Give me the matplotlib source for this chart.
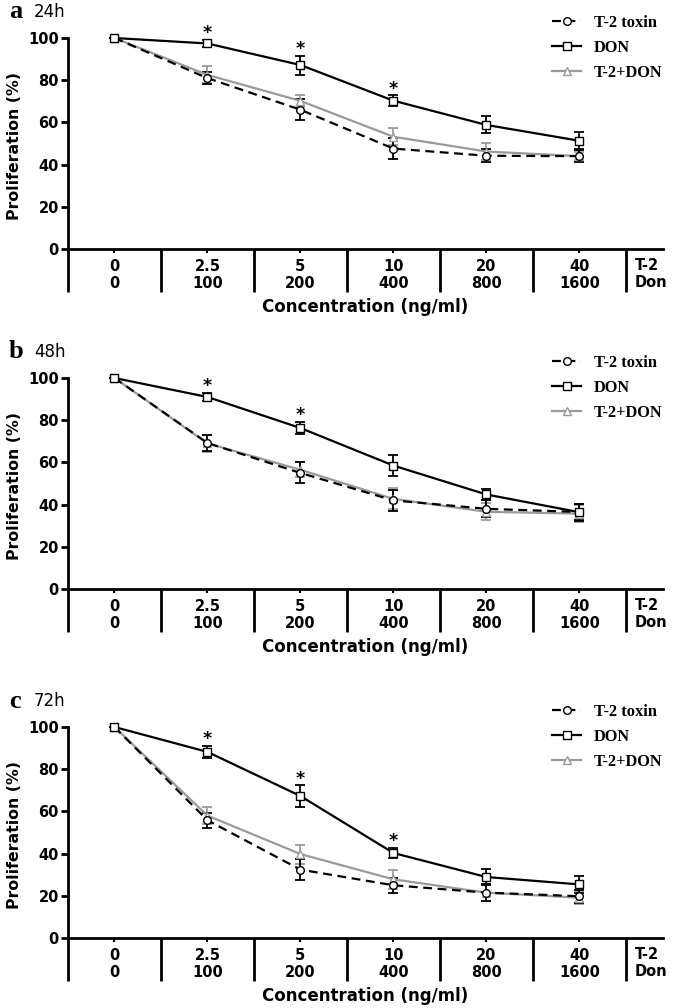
import matplotlib
matplotlib.use("Agg")
import matplotlib.pyplot as plt
import matplotlib.transforms as mtransforms

# concentrations (ng/ml)
t2_conc = ["0", "2.5", "5", "10", "20", "40"]
don_conc = ["0", "100", "200", "400", "800", "1600"]

# 24h
t2_24 = [100, 81, 66, 47.6, 44.2, 44]
t2_24_err = [0, 3, 5, 5, 3, 3]
don_24 = [100, 97.4, 87.2, 70.3, 58.8, 51.3]
don_24_err = [0, 1.5, 4.5, 2.5, 4, 4]
mix_24 = [100, 82.5, 70.2, 53.2, 46.2, 44]
mix_24_err = [0, 4, 3, 4, 4, 2]
sig_24 = [1, 2, 3]

# 48h
t2_48 = [100, 69.2, 55, 42, 38, 36.5]
t2_48_err = [0, 4, 5, 5, 4, 4]
don_48 = [100, 91, 76.3, 58.5, 44.8, 36.4]
don_48_err = [0, 2, 3, 5, 2.5, 4]
mix_48 = [100, 69, 56.5, 42.7, 36.6, 35.7]
mix_48_err = [0, 4, 3.5, 5, 4, 4]
sig_48 = [1, 2]

# 72h
t2_72 = [100, 55.8, 32.4, 25, 21.5, 19.8]
t2_72_err = [0, 3.5, 5, 3.5, 4, 3]
don_72 = [100, 88.2, 67.3, 40.3, 28.9, 25.4]
don_72_err = [0, 3, 5, 2.5, 4, 4]
mix_72 = [100, 58, 39.8, 27.8, 21.5, 19.1]
mix_72_err = [0, 4, 4.5, 4.5, 4, 3]
sig_72 = [1, 2, 3]

panels = [
    ("a", "24h", t2_24, t2_24_err, don_24, don_24_err, mix_24, mix_24_err, sig_24),
    ("b", "48h", t2_48, t2_48_err, don_48, don_48_err, mix_48, mix_48_err, sig_48),
    ("c", "72h", t2_72, t2_72_err, don_72, don_72_err, mix_72, mix_72_err, sig_72),
]

W, H = 675, 1008
zero_px = [249, 589, 938]   # pixel row of y=0 in each panel
GRAY = "#9a9a9a"
sans = "DejaVu Sans"
serif = "Liberation Serif"

fig = plt.figure(figsize=(W / 100, H / 100), dpi=100)

for (letter, hours, t2, t2e, don, done, mix, mixe, sig), zp in zip(panels, zero_px):
    ax = fig.add_axes([68 / W, 1 - zp / H, 595 / W, 211 / H])
    x = list(range(len(t2_conc)))

    eb = dict(elinewidth=1.3, capsize=3.5, capthick=1.3, clip_on=False)
    ax.errorbar(x, t2, yerr=t2e, fmt="none", ecolor="black", zorder=3, **eb)
    ax.errorbar(x, don, yerr=done, fmt="none", ecolor="black", zorder=3, **eb)
    ax.errorbar(x, mix, yerr=mixe, fmt="none", ecolor=GRAY, zorder=2, **eb)

    ax.plot(x, mix, color=GRAY, lw=1.6, marker="^", ms=5.5, mfc="white",
            mec=GRAY, mew=1, label="T-2+DON", clip_on=False, zorder=4)
    ax.plot(x, t2, color="black", lw=1.6, ls=(0, (4, 2.5)), marker="o", ms=5.5,
            mfc="white", mec="black", mew=1, label="T-2 toxin", clip_on=False, zorder=5)
    ax.plot(x, don, color="black", lw=1.6, marker="s", ms=5.5, mfc="white",
            mec="black", mew=1, label="DON", clip_on=False, zorder=5)

    for i in sig:
        ax.text(x[i], don[i] + done[i] - 1.0, "*", ha="center", va="bottom",
                fontsize=12.5, fontweight="bold", family=sans)

    ax.set_xlim(-0.5, 5.9)
    ax.set_ylim(0, 100)
    ax.set_yticks(range(0, 101, 20))
    ax.set_xticks(x)
    ax.set_xticklabels([a + "\n" + b for a, b in zip(t2_conc, don_conc)],
                       fontsize=10.5, fontweight="bold", family=sans, linespacing=1.15)
    ax.tick_params(axis="x", length=3, width=1.5, pad=4)
    ax.tick_params(axis="y", length=5, width=2, labelsize=10.5, pad=1.5)
    for lab in ax.get_yticklabels():
        lab.set_fontweight("bold")
        lab.set_family(sans)
    for s in ["top", "right"]:
        ax.spines[s].set_visible(False)
    ax.spines["left"].set_linewidth(2)
    ax.spines["bottom"].set_linewidth(2)

    # group separators under the axis
    trans = mtransforms.blended_transform_factory(ax.transData, ax.transAxes)
    for sx in [-0.5, 0.5, 1.5, 2.5, 3.5, 4.5, 5.5]:
        ax.plot([sx, sx], [0, -0.205], color="black", lw=2, transform=trans,
                clip_on=False, solid_capstyle="butt")
    ax.text(5.6, -0.118, "T-2\nDon", transform=trans, ha="left", va="center",
            fontsize=10.5, fontweight="bold", family=sans, linespacing=1.15)

    ax.text(0.5, -0.275, "Concentration (ng/ml)", transform=ax.transAxes,
            ha="center", va="center", fontsize=12, fontweight="bold", family=sans)
    ax.text(-0.09, 0.49, "Proliferation (%)", transform=ax.transAxes, rotation=90,
            ha="center", va="center", fontsize=11.3, fontweight="bold", family=sans)

    top_px = zp - 211
    fig.text(9 / W, 1 - (top_px - 26) / H, letter, ha="left", va="center",
             fontsize=19, fontweight="bold", family=serif)
    fig.text(34 / W, 1 - (top_px - 26) / H, hours, ha="left", va="center",
             fontsize=12, family=sans)

    handles, labels = ax.get_legend_handles_labels()
    order = [1, 2, 0]
    ax.legend([handles[i] for i in order], [labels[i] for i in order],
              loc="upper left", bbox_to_anchor=(469 / 595, 1.18), frameon=False,
              handlelength=1.8, handletextpad=0.75, labelspacing=0.55,
              prop={"family": serif, "weight": "bold", "size": 11.8})

fig.savefig("out.png", dpi=100)
